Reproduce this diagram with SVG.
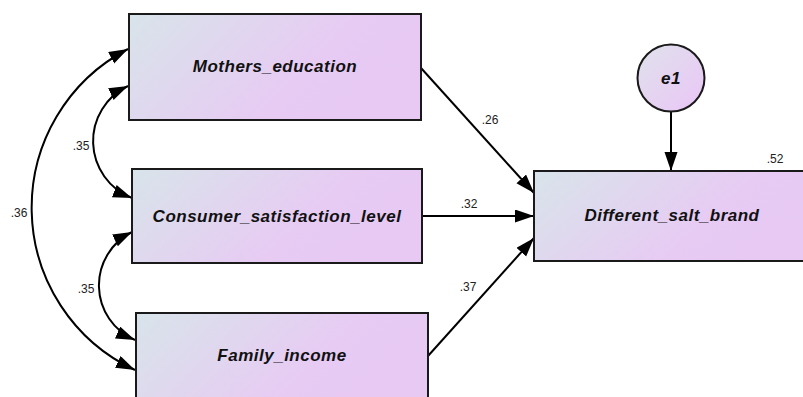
<svg xmlns="http://www.w3.org/2000/svg" width="803" height="397" viewBox="0 0 803 397">
<defs>
<linearGradient id="g" x1="0" y1="0" x2="1" y2="0.35">
<stop offset="0" stop-color="#d8e4ea"/>
<stop offset="0.7" stop-color="#e7cbf3"/>
<stop offset="1" stop-color="#e7c9f4"/>
</linearGradient>
<linearGradient id="gc" x1="0" y1="0" x2="1" y2="1">
<stop offset="0" stop-color="#dfe2ec"/>
<stop offset="0.8" stop-color="#e8cbf4"/>
<stop offset="1" stop-color="#e8c9f4"/>
</linearGradient>
<marker id="ah" markerUnits="userSpaceOnUse" markerWidth="21" markerHeight="14" refX="19" refY="6.5" orient="auto-start-reverse">
<path d="M0,0 L19,6.5 L0,13 z" fill="#000"/>
</marker>
</defs>
<style>
.box{fill:url(#g);stroke:#1a1a1a;stroke-width:2}
.circ{fill:url(#gc);stroke:#1a1a1a;stroke-width:2}
.name{font-family:"Liberation Sans",Arial,sans-serif;font-size:17px;font-weight:bold;font-style:italic;letter-spacing:0.5px;fill:#111;text-anchor:middle}
.num{font-family:"Liberation Sans",Arial,sans-serif;font-size:12px;fill:#222}
.c{fill:none;stroke:#000;stroke-width:2}
.one{marker-end:url(#ah)}
.two{marker-start:url(#ah);marker-end:url(#ah)}
</style>
<g id="connectors">
<path class="c two" d="M128,49 A179,179 0 0 0 135,370"/>
<path class="c two" d="M128,86 A61,61 0 0 0 132,198"/>
<path class="c two" d="M132,232 A59.5,59.5 0 0 0 135,340"/>
<path class="c one" d="M421,68 L534,193"/>
<path class="c one" d="M422,216 L534,216"/>
<path class="c one" d="M428,356 L534,238"/>
<path class="c one" d="M671,112 L671,171"/>
<text class="num" x="19" y="217" text-anchor="middle">.36</text>
<text class="num" x="81" y="150" text-anchor="middle">.35</text>
<text class="num" x="86" y="293" text-anchor="middle">.35</text>
<text class="num" x="490" y="124" text-anchor="middle">.26</text>
<text class="num" x="469" y="208" text-anchor="middle">.32</text>
<text class="num" x="468" y="291" text-anchor="middle">.37</text>
<text class="num" x="775" y="163" text-anchor="middle">.52</text>
</g>
<g id="mothers_education">
<rect class="box" x="129" y="14" width="292" height="106"/>
<text class="name" x="275" y="72">Mothers_education</text>
</g>
<g id="consumer_satisfaction_level">
<rect class="box" x="132" y="169" width="290" height="94"/>
<text class="name" x="277" y="222">Consumer_satisfaction_level</text>
</g>
<g id="family_income">
<rect class="box" x="136" y="313" width="292" height="100"/>
<text class="name" x="282" y="361">Family_income</text>
</g>
<g id="different_salt_brand">
<rect class="box" x="534" y="171" width="290" height="90"/>
<text class="name" x="672" y="221">Different_salt_brand</text>
</g>
<g id="e1">
<circle class="circ" cx="671" cy="78" r="33.5"/>
<text class="name" x="671" y="84">e1</text>
</g>
</svg>
